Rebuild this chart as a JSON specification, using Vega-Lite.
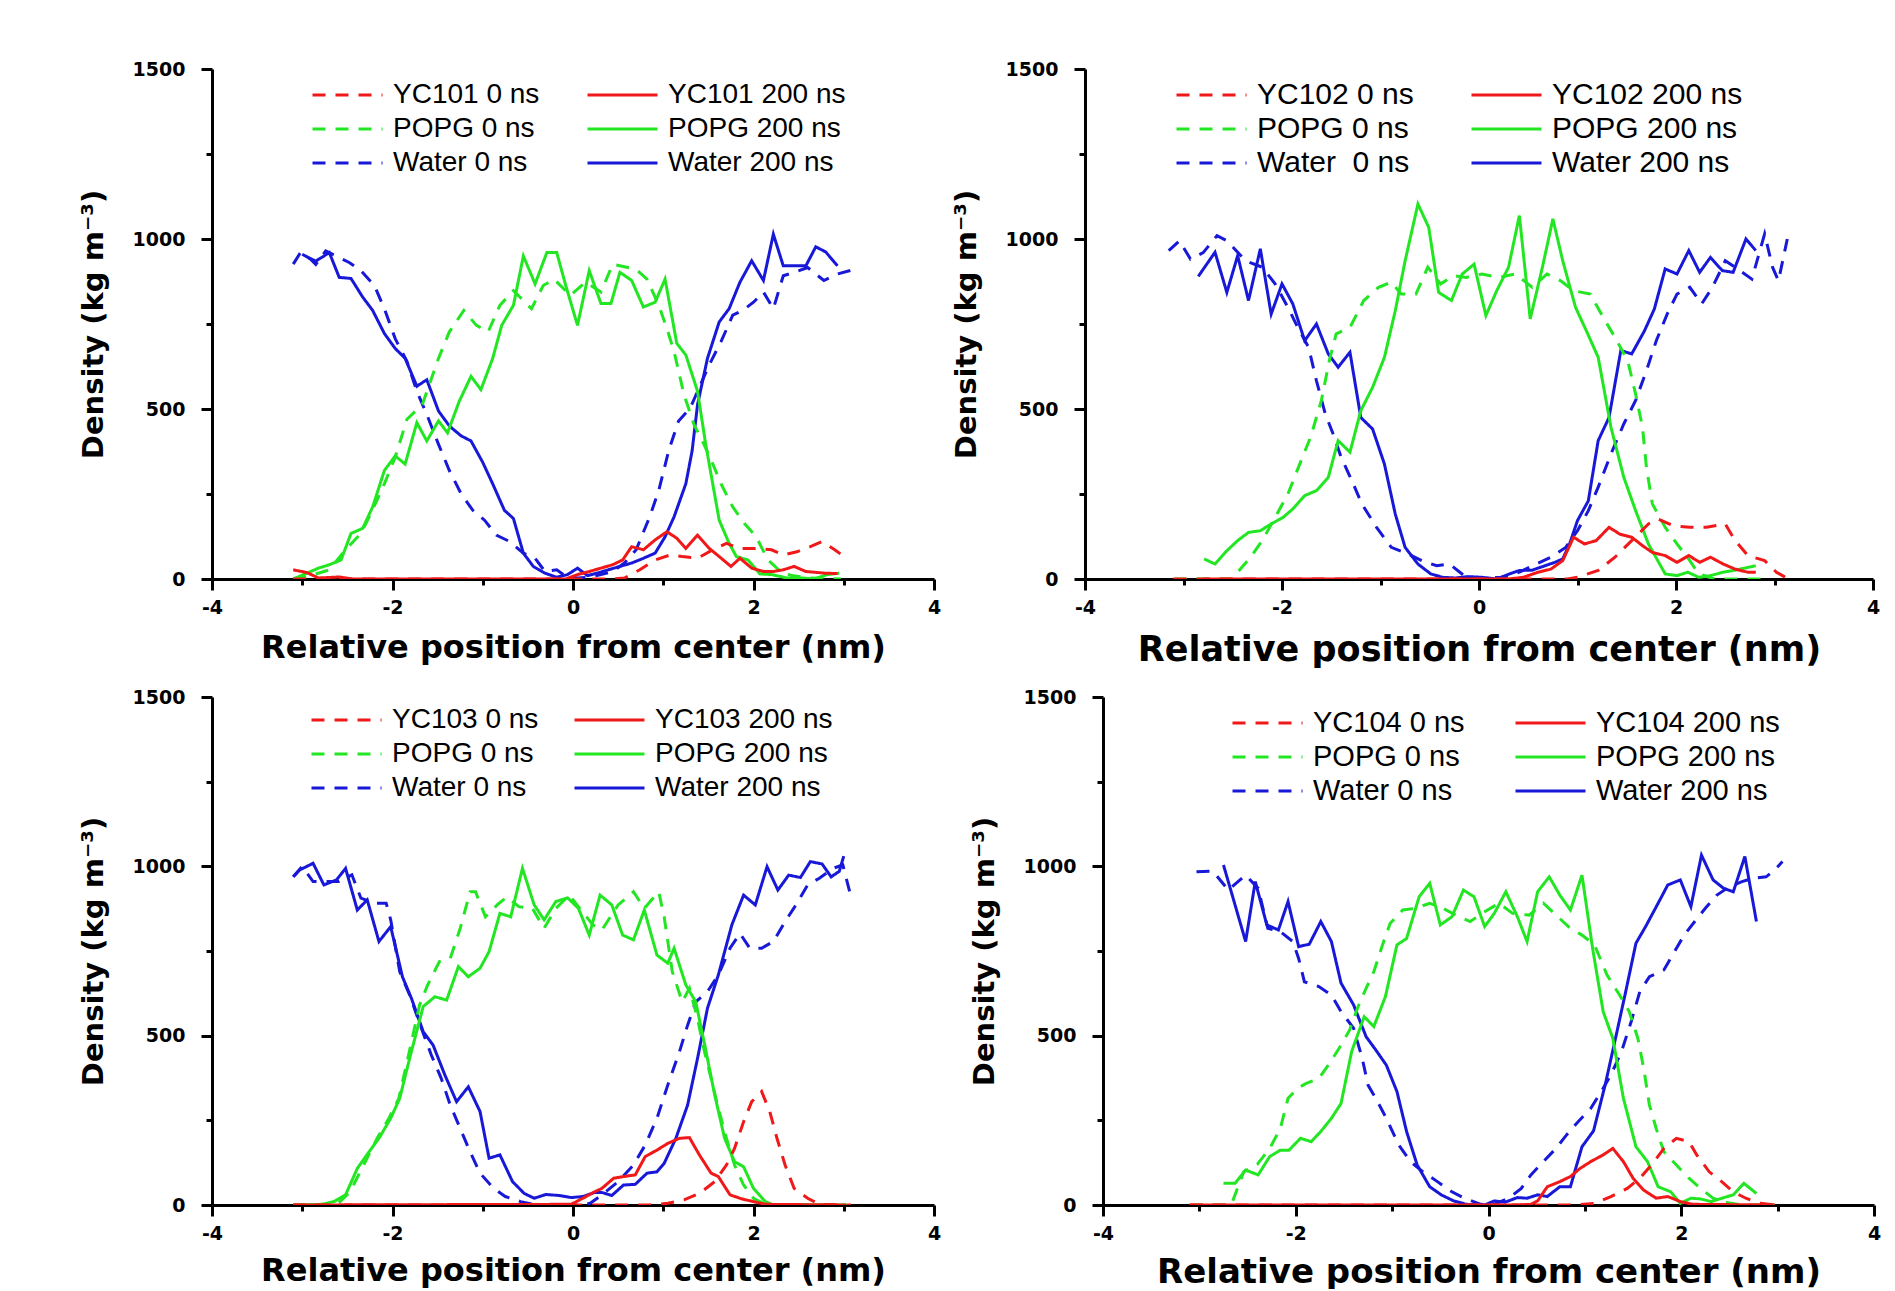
{
"$schema": "https://vega.github.io/schema/vega-lite/v6.json",
"background": "white",
"padding": {"left": 79, "top": 60, "right": 0, "bottom": 0},
"config": {
  "view": {"stroke": null},
  "axis": {"domainColor": "black", "domainWidth": 3, "tickColor": "black", "tickWidth": 3, "grid": false, "labelFont": "DejaVu Sans", "labelFontWeight": "bold", "labelFontSize": 19, "labelColor": "black", "titleFont": "DejaVu Sans", "titleFontWeight": "bold", "titleColor": "black", "labelOverlap": false, "labelFlush": false, "labelPadding": 8},
  "legend": {"title": null, "orient": "none", "columns": 2, "symbolType": "stroke", "symbolSize": 4900, "symbolStrokeWidth": 3, "clipHeight": 34, "labelFont": "Liberation Sans", "labelFontSize": 28, "labelColor": "black", "labelOffset": 9, "rowPadding": 0, "labelLimit": 500, "padding": 0, "legendY": 9}
},
"datasets": {
"p1": [
{"s":"b1","x":-3.0,"y":955},{"s":"b1","x":-2.93,"y":945},{"s":"b1","x":-2.85,"y":935},{"s":"b1","x":-2.7,"y":960},{"s":"b1","x":-2.59,"y":887},{"s":"b1","x":-2.46,"y":884},{"s":"b1","x":-2.33,"y":829},{"s":"b1","x":-2.22,"y":790},{"s":"b1","x":-2.09,"y":722},{"s":"b1","x":-1.97,"y":678},{"s":"b1","x":-1.86,"y":649},{"s":"b1","x":-1.73,"y":567},{"s":"b1","x":-1.62,"y":586},{"s":"b1","x":-1.49,"y":494},{"s":"b1","x":-1.37,"y":450},{"s":"b1","x":-1.24,"y":421},{"s":"b1","x":-1.13,"y":406},{"s":"b1","x":-1.0,"y":343},{"s":"b1","x":-0.89,"y":280},{"s":"b1","x":-0.76,"y":202},{"s":"b1","x":-0.66,"y":178},{"s":"b1","x":-0.55,"y":76},{"s":"b1","x":-0.44,"y":37},{"s":"b1","x":-0.31,"y":17},{"s":"b1","x":-0.18,"y":5},{"s":"b1","x":-0.06,"y":13},{"s":"b1","x":0.05,"y":32},{"s":"b1","x":0.16,"y":10},{"s":"b1","x":0.29,"y":19},{"s":"b1","x":0.39,"y":27},{"s":"b1","x":0.52,"y":37},{"s":"b1","x":0.65,"y":47},{"s":"b1","x":0.78,"y":61},{"s":"b1","x":0.91,"y":76},{"s":"b1","x":1.02,"y":124},{"s":"b1","x":1.12,"y":183},{"s":"b1","x":1.25,"y":280},{"s":"b1","x":1.32,"y":377},{"s":"b1","x":1.38,"y":513},{"s":"b1","x":1.49,"y":649},{"s":"b1","x":1.62,"y":756},{"s":"b1","x":1.73,"y":795},{"s":"b1","x":1.85,"y":873},{"s":"b1","x":1.98,"y":936},{"s":"b1","x":2.11,"y":878},{"s":"b1","x":2.22,"y":1014},{"s":"b1","x":2.33,"y":921},{"s":"b1","x":2.45,"y":921},{"s":"b1","x":2.58,"y":921},{"s":"b1","x":2.69,"y":977},{"s":"b1","x":2.8,"y":962},{"s":"b1","x":2.93,"y":921},
{"s":"b0","x":-3.1,"y":926},{"s":"b0","x":-3.02,"y":960},{"s":"b0","x":-2.91,"y":941},{"s":"b0","x":-2.85,"y":925},{"s":"b0","x":-2.74,"y":965},{"s":"b0","x":-2.48,"y":931},{"s":"b0","x":-2.35,"y":907},{"s":"b0","x":-2.2,"y":863},{"s":"b0","x":-2.09,"y":795},{"s":"b0","x":-1.97,"y":707},{"s":"b0","x":-1.84,"y":640},{"s":"b0","x":-1.73,"y":552},{"s":"b0","x":-1.62,"y":484},{"s":"b0","x":-1.49,"y":396},{"s":"b0","x":-1.37,"y":319},{"s":"b0","x":-1.24,"y":251},{"s":"b0","x":-1.11,"y":202},{"s":"b0","x":-0.98,"y":173},{"s":"b0","x":-0.85,"y":129},{"s":"b0","x":-0.7,"y":110},{"s":"b0","x":-0.55,"y":76},{"s":"b0","x":-0.42,"y":61},{"s":"b0","x":-0.31,"y":22},{"s":"b0","x":-0.18,"y":27},{"s":"b0","x":-0.08,"y":8},{"s":"b0","x":0.05,"y":3},{"s":"b0","x":0.18,"y":5},{"s":"b0","x":0.31,"y":13},{"s":"b0","x":0.44,"y":22},{"s":"b0","x":0.57,"y":47},{"s":"b0","x":0.7,"y":86},{"s":"b0","x":0.85,"y":183},{"s":"b0","x":0.95,"y":260},{"s":"b0","x":1.06,"y":377},{"s":"b0","x":1.17,"y":465},{"s":"b0","x":1.3,"y":503},{"s":"b0","x":1.38,"y":552},{"s":"b0","x":1.51,"y":630},{"s":"b0","x":1.64,"y":698},{"s":"b0","x":1.77,"y":776},{"s":"b0","x":1.88,"y":790},{"s":"b0","x":2.0,"y":814},{"s":"b0","x":2.11,"y":844},{"s":"b0","x":2.22,"y":795},{"s":"b0","x":2.33,"y":892},{"s":"b0","x":2.45,"y":902},{"s":"b0","x":2.6,"y":916},{"s":"b0","x":2.78,"y":878},{"s":"b0","x":2.93,"y":897},{"s":"b0","x":3.12,"y":911},
{"s":"g1","x":-3.1,"y":0},{"s":"g1","x":-2.95,"y":17},{"s":"g1","x":-2.82,"y":32},{"s":"g1","x":-2.7,"y":42},{"s":"g1","x":-2.57,"y":56},{"s":"g1","x":-2.46,"y":134},{"s":"g1","x":-2.33,"y":149},{"s":"g1","x":-2.22,"y":212},{"s":"g1","x":-2.09,"y":319},{"s":"g1","x":-1.97,"y":362},{"s":"g1","x":-1.86,"y":338},{"s":"g1","x":-1.73,"y":460},{"s":"g1","x":-1.62,"y":406},{"s":"g1","x":-1.49,"y":465},{"s":"g1","x":-1.39,"y":430},{"s":"g1","x":-1.26,"y":523},{"s":"g1","x":-1.13,"y":596},{"s":"g1","x":-1.02,"y":557},{"s":"g1","x":-0.89,"y":649},{"s":"g1","x":-0.79,"y":746},{"s":"g1","x":-0.66,"y":805},{"s":"g1","x":-0.55,"y":950},{"s":"g1","x":-0.42,"y":868},{"s":"g1","x":-0.29,"y":960},{"s":"g1","x":-0.18,"y":960},{"s":"g1","x":-0.08,"y":863},{"s":"g1","x":0.05,"y":746},{"s":"g1","x":0.18,"y":907},{"s":"g1","x":0.31,"y":810},{"s":"g1","x":0.42,"y":810},{"s":"g1","x":0.52,"y":902},{"s":"g1","x":0.65,"y":878},{"s":"g1","x":0.78,"y":800},{"s":"g1","x":0.91,"y":814},{"s":"g1","x":1.02,"y":882},{"s":"g1","x":1.15,"y":693},{"s":"g1","x":1.25,"y":659},{"s":"g1","x":1.38,"y":552},{"s":"g1","x":1.47,"y":397},{"s":"g1","x":1.62,"y":173},{"s":"g1","x":1.73,"y":105},{"s":"g1","x":1.81,"y":66},{"s":"g1","x":1.94,"y":56},{"s":"g1","x":2.07,"y":15},{"s":"g1","x":2.2,"y":13},{"s":"g1","x":2.37,"y":3},{"s":"g1","x":2.54,"y":3},{"s":"g1","x":2.67,"y":0},{"s":"g1","x":2.82,"y":13},{"s":"g1","x":2.95,"y":17},
{"s":"g0","x":-3.1,"y":0},{"s":"g0","x":-2.87,"y":13},{"s":"g0","x":-2.7,"y":27},{"s":"g0","x":-2.52,"y":86},{"s":"g0","x":-2.35,"y":134},{"s":"g0","x":-2.24,"y":192},{"s":"g0","x":-2.09,"y":280},{"s":"g0","x":-1.97,"y":358},{"s":"g0","x":-1.84,"y":470},{"s":"g0","x":-1.67,"y":513},{"s":"g0","x":-1.49,"y":649},{"s":"g0","x":-1.37,"y":727},{"s":"g0","x":-1.21,"y":790},{"s":"g0","x":-1.07,"y":746},{"s":"g0","x":-0.94,"y":727},{"s":"g0","x":-0.81,"y":805},{"s":"g0","x":-0.66,"y":848},{"s":"g0","x":-0.46,"y":795},{"s":"g0","x":-0.33,"y":863},{"s":"g0","x":-0.21,"y":882},{"s":"g0","x":-0.03,"y":834},{"s":"g0","x":0.14,"y":873},{"s":"g0","x":0.31,"y":844},{"s":"g0","x":0.44,"y":926},{"s":"g0","x":0.7,"y":911},{"s":"g0","x":0.82,"y":882},{"s":"g0","x":0.95,"y":805},{"s":"g0","x":1.04,"y":737},{"s":"g0","x":1.12,"y":669},{"s":"g0","x":1.23,"y":542},{"s":"g0","x":1.34,"y":455},{"s":"g0","x":1.45,"y":397},{"s":"g0","x":1.55,"y":338},{"s":"g0","x":1.64,"y":280},{"s":"g0","x":1.77,"y":212},{"s":"g0","x":1.9,"y":163},{"s":"g0","x":2.03,"y":124},{"s":"g0","x":2.16,"y":56},{"s":"g0","x":2.28,"y":27},{"s":"g0","x":2.42,"y":10},{"s":"g0","x":2.63,"y":3},{"s":"g0","x":2.97,"y":0},
{"s":"r1","x":-3.1,"y":27},{"s":"r1","x":-2.95,"y":19},{"s":"r1","x":-2.82,"y":3},{"s":"r1","x":-2.59,"y":6},{"s":"r1","x":-2.44,"y":0},{"s":"r1","x":-0.08,"y":0},{"s":"r1","x":0.05,"y":13},{"s":"r1","x":0.18,"y":22},{"s":"r1","x":0.31,"y":32},{"s":"r1","x":0.44,"y":42},{"s":"r1","x":0.55,"y":56},{"s":"r1","x":0.65,"y":95},{"s":"r1","x":0.78,"y":86},{"s":"r1","x":0.91,"y":115},{"s":"r1","x":1.04,"y":139},{"s":"r1","x":1.15,"y":120},{"s":"r1","x":1.25,"y":90},{"s":"r1","x":1.38,"y":129},{"s":"r1","x":1.51,"y":90},{"s":"r1","x":1.62,"y":66},{"s":"r1","x":1.75,"y":37},{"s":"r1","x":1.85,"y":61},{"s":"r1","x":1.98,"y":32},{"s":"r1","x":2.11,"y":22},{"s":"r1","x":2.22,"y":22},{"s":"r1","x":2.33,"y":27},{"s":"r1","x":2.45,"y":37},{"s":"r1","x":2.58,"y":22},{"s":"r1","x":2.8,"y":17},{"s":"r1","x":2.93,"y":16},
{"s":"r0","x":-3.1,"y":0},{"s":"r0","x":0.45,"y":0},{"s":"r0","x":0.57,"y":3},{"s":"r0","x":0.74,"y":27},{"s":"r0","x":0.91,"y":56},{"s":"r0","x":1.08,"y":71},{"s":"r0","x":1.21,"y":66},{"s":"r0","x":1.38,"y":61},{"s":"r0","x":1.55,"y":86},{"s":"r0","x":1.7,"y":105},{"s":"r0","x":1.85,"y":90},{"s":"r0","x":2.03,"y":90},{"s":"r0","x":2.2,"y":86},{"s":"r0","x":2.33,"y":71},{"s":"r0","x":2.48,"y":80},{"s":"r0","x":2.63,"y":95},{"s":"r0","x":2.76,"y":110},{"s":"r0","x":2.9,"y":86},{"s":"r0","x":3.03,"y":61}
],
"p2": [
{"s":"b1","x":-2.85,"y":890},{"s":"b1","x":-2.68,"y":961},{"s":"b1","x":-2.56,"y":843},{"s":"b1","x":-2.45,"y":951},{"s":"b1","x":-2.34,"y":819},{"s":"b1","x":-2.22,"y":971},{"s":"b1","x":-2.11,"y":779},{"s":"b1","x":-2.0,"y":868},{"s":"b1","x":-1.89,"y":809},{"s":"b1","x":-1.77,"y":701},{"s":"b1","x":-1.65,"y":750},{"s":"b1","x":-1.53,"y":662},{"s":"b1","x":-1.43,"y":623},{"s":"b1","x":-1.31,"y":667},{"s":"b1","x":-1.2,"y":475},{"s":"b1","x":-1.08,"y":441},{"s":"b1","x":-0.96,"y":338},{"s":"b1","x":-0.85,"y":191},{"s":"b1","x":-0.75,"y":93},{"s":"b1","x":-0.62,"y":44},{"s":"b1","x":-0.49,"y":15},{"s":"b1","x":-0.37,"y":5},{"s":"b1","x":-0.24,"y":3},{"s":"b1","x":-0.11,"y":7},{"s":"b1","x":0.03,"y":5},{"s":"b1","x":0.18,"y":0},{"s":"b1","x":0.31,"y":15},{"s":"b1","x":0.41,"y":25},{"s":"b1","x":0.54,"y":26},{"s":"b1","x":0.67,"y":39},{"s":"b1","x":0.77,"y":49},{"s":"b1","x":0.85,"y":59},{"s":"b1","x":0.92,"y":103},{"s":"b1","x":1.0,"y":172},{"s":"b1","x":1.11,"y":230},{"s":"b1","x":1.21,"y":407},{"s":"b1","x":1.32,"y":475},{"s":"b1","x":1.44,"y":672},{"s":"b1","x":1.55,"y":662},{"s":"b1","x":1.68,"y":730},{"s":"b1","x":1.78,"y":794},{"s":"b1","x":1.89,"y":912},{"s":"b1","x":2.01,"y":897},{"s":"b1","x":2.13,"y":966},{"s":"b1","x":2.24,"y":902},{"s":"b1","x":2.35,"y":946},{"s":"b1","x":2.47,"y":907},{"s":"b1","x":2.58,"y":902},{"s":"b1","x":2.71,"y":1000},{"s":"b1","x":2.81,"y":966},
{"s":"b0","x":-3.15,"y":966},{"s":"b0","x":-3.04,"y":995},{"s":"b0","x":-2.93,"y":941},{"s":"b0","x":-2.8,"y":960},{"s":"b0","x":-2.66,"y":1010},{"s":"b0","x":-2.56,"y":995},{"s":"b0","x":-2.37,"y":936},{"s":"b0","x":-2.2,"y":917},{"s":"b0","x":-2.07,"y":868},{"s":"b0","x":-1.94,"y":799},{"s":"b0","x":-1.84,"y":740},{"s":"b0","x":-1.73,"y":681},{"s":"b0","x":-1.65,"y":583},{"s":"b0","x":-1.56,"y":485},{"s":"b0","x":-1.48,"y":426},{"s":"b0","x":-1.4,"y":358},{"s":"b0","x":-1.29,"y":289},{"s":"b0","x":-1.19,"y":221},{"s":"b0","x":-1.04,"y":152},{"s":"b0","x":-0.89,"y":93},{"s":"b0","x":-0.72,"y":74},{"s":"b0","x":-0.58,"y":54},{"s":"b0","x":-0.43,"y":39},{"s":"b0","x":-0.3,"y":44},{"s":"b0","x":-0.13,"y":5},{"s":"b0","x":0.03,"y":3},{"s":"b0","x":0.24,"y":5},{"s":"b0","x":0.41,"y":20},{"s":"b0","x":0.58,"y":44},{"s":"b0","x":0.73,"y":64},{"s":"b0","x":0.88,"y":93},{"s":"b0","x":1.0,"y":142},{"s":"b0","x":1.11,"y":201},{"s":"b0","x":1.21,"y":270},{"s":"b0","x":1.34,"y":368},{"s":"b0","x":1.47,"y":456},{"s":"b0","x":1.59,"y":525},{"s":"b0","x":1.7,"y":613},{"s":"b0","x":1.8,"y":701},{"s":"b0","x":1.91,"y":779},{"s":"b0","x":2.01,"y":838},{"s":"b0","x":2.14,"y":858},{"s":"b0","x":2.26,"y":809},{"s":"b0","x":2.37,"y":858},{"s":"b0","x":2.5,"y":936},{"s":"b0","x":2.65,"y":907},{"s":"b0","x":2.77,"y":882},{"s":"b0","x":2.9,"y":1015},{"s":"b0","x":2.98,"y":917},{"s":"b0","x":3.04,"y":877},{"s":"b0","x":3.13,"y":1000},
{"s":"g1","x":-2.79,"y":59},{"s":"g1","x":-2.68,"y":44},{"s":"g1","x":-2.56,"y":83},{"s":"g1","x":-2.45,"y":113},{"s":"g1","x":-2.34,"y":137},{"s":"g1","x":-2.22,"y":142},{"s":"g1","x":-2.11,"y":162},{"s":"g1","x":-1.99,"y":181},{"s":"g1","x":-1.89,"y":206},{"s":"g1","x":-1.77,"y":245},{"s":"g1","x":-1.65,"y":260},{"s":"g1","x":-1.53,"y":299},{"s":"g1","x":-1.43,"y":407},{"s":"g1","x":-1.31,"y":373},{"s":"g1","x":-1.2,"y":495},{"s":"g1","x":-1.08,"y":564},{"s":"g1","x":-0.96,"y":652},{"s":"g1","x":-0.85,"y":789},{"s":"g1","x":-0.75,"y":936},{"s":"g1","x":-0.62,"y":1103},{"s":"g1","x":-0.51,"y":1034},{"s":"g1","x":-0.41,"y":843},{"s":"g1","x":-0.28,"y":819},{"s":"g1","x":-0.17,"y":897},{"s":"g1","x":-0.05,"y":926},{"s":"g1","x":0.07,"y":775},{"s":"g1","x":0.18,"y":848},{"s":"g1","x":0.3,"y":917},{"s":"g1","x":0.41,"y":1069},{"s":"g1","x":0.52,"y":765},{"s":"g1","x":0.64,"y":912},{"s":"g1","x":0.75,"y":1059},{"s":"g1","x":0.85,"y":936},{"s":"g1","x":0.98,"y":799},{"s":"g1","x":1.09,"y":730},{"s":"g1","x":1.21,"y":652},{"s":"g1","x":1.34,"y":446},{"s":"g1","x":1.47,"y":299},{"s":"g1","x":1.59,"y":201},{"s":"g1","x":1.72,"y":103},{"s":"g1","x":1.89,"y":15},{"s":"g1","x":2.01,"y":10},{"s":"g1","x":2.12,"y":20},{"s":"g1","x":2.23,"y":5},{"s":"g1","x":2.35,"y":10},{"s":"g1","x":2.48,"y":20},{"s":"g1","x":2.6,"y":26},{"s":"g1","x":2.81,"y":39},
{"s":"g0","x":-3.1,"y":0},{"s":"g0","x":-2.5,"y":0},{"s":"g0","x":-2.45,"y":20},{"s":"g0","x":-2.32,"y":64},{"s":"g0","x":-2.2,"y":113},{"s":"g0","x":-2.07,"y":181},{"s":"g0","x":-1.94,"y":250},{"s":"g0","x":-1.82,"y":338},{"s":"g0","x":-1.71,"y":417},{"s":"g0","x":-1.6,"y":525},{"s":"g0","x":-1.52,"y":642},{"s":"g0","x":-1.45,"y":721},{"s":"g0","x":-1.31,"y":740},{"s":"g0","x":-1.17,"y":819},{"s":"g0","x":-1.02,"y":858},{"s":"g0","x":-0.89,"y":873},{"s":"g0","x":-0.79,"y":838},{"s":"g0","x":-0.64,"y":838},{"s":"g0","x":-0.52,"y":917},{"s":"g0","x":-0.39,"y":868},{"s":"g0","x":-0.26,"y":892},{"s":"g0","x":-0.13,"y":887},{"s":"g0","x":0.03,"y":897},{"s":"g0","x":0.2,"y":887},{"s":"g0","x":0.37,"y":897},{"s":"g0","x":0.54,"y":858},{"s":"g0","x":0.69,"y":897},{"s":"g0","x":0.83,"y":877},{"s":"g0","x":0.96,"y":848},{"s":"g0","x":1.13,"y":838},{"s":"g0","x":1.26,"y":770},{"s":"g0","x":1.38,"y":711},{"s":"g0","x":1.51,"y":642},{"s":"g0","x":1.59,"y":544},{"s":"g0","x":1.66,"y":446},{"s":"g0","x":1.7,"y":328},{"s":"g0","x":1.76,"y":221},{"s":"g0","x":1.89,"y":152},{"s":"g0","x":2.01,"y":103},{"s":"g0","x":2.14,"y":54},{"s":"g0","x":2.23,"y":15},{"s":"g0","x":2.39,"y":0},{"s":"g0","x":2.9,"y":0},
{"s":"r1","x":-2.8,"y":0},{"s":"r1","x":0.3,"y":0},{"s":"r1","x":0.45,"y":5},{"s":"r1","x":0.6,"y":20},{"s":"r1","x":0.73,"y":29},{"s":"r1","x":0.85,"y":54},{"s":"r1","x":0.96,"y":123},{"s":"r1","x":1.07,"y":103},{"s":"r1","x":1.19,"y":113},{"s":"r1","x":1.32,"y":152},{"s":"r1","x":1.43,"y":132},{"s":"r1","x":1.55,"y":123},{"s":"r1","x":1.66,"y":98},{"s":"r1","x":1.76,"y":78},{"s":"r1","x":1.89,"y":69},{"s":"r1","x":2.01,"y":49},{"s":"r1","x":2.13,"y":69},{"s":"r1","x":2.24,"y":49},{"s":"r1","x":2.35,"y":64},{"s":"r1","x":2.48,"y":44},{"s":"r1","x":2.6,"y":29},{"s":"r1","x":2.73,"y":20},{"s":"r1","x":2.81,"y":20},
{"s":"r0","x":-3.1,"y":0},{"s":"r0","x":0.9,"y":0},{"s":"r0","x":1.0,"y":5},{"s":"r0","x":1.21,"y":25},{"s":"r0","x":1.38,"y":64},{"s":"r0","x":1.55,"y":113},{"s":"r0","x":1.72,"y":162},{"s":"r0","x":1.82,"y":176},{"s":"r0","x":1.97,"y":157},{"s":"r0","x":2.14,"y":152},{"s":"r0","x":2.31,"y":152},{"s":"r0","x":2.5,"y":162},{"s":"r0","x":2.6,"y":113},{"s":"r0","x":2.73,"y":69},{"s":"r0","x":2.9,"y":54},{"s":"r0","x":3.02,"y":20},{"s":"r0","x":3.11,"y":5}
],
"p3": [
{"s":"b1","x":-3.1,"y":969},{"s":"b1","x":-3.03,"y":989},{"s":"b1","x":-2.88,"y":1009},{"s":"b1","x":-2.76,"y":945},{"s":"b1","x":-2.62,"y":960},{"s":"b1","x":-2.52,"y":994},{"s":"b1","x":-2.39,"y":871},{"s":"b1","x":-2.28,"y":901},{"s":"b1","x":-2.15,"y":778},{"s":"b1","x":-2.02,"y":822},{"s":"b1","x":-1.89,"y":674},{"s":"b1","x":-1.79,"y":610},{"s":"b1","x":-1.66,"y":512},{"s":"b1","x":-1.55,"y":472},{"s":"b1","x":-1.42,"y":384},{"s":"b1","x":-1.29,"y":305},{"s":"b1","x":-1.16,"y":349},{"s":"b1","x":-1.03,"y":276},{"s":"b1","x":-0.93,"y":138},{"s":"b1","x":-0.81,"y":148},{"s":"b1","x":-0.67,"y":69},{"s":"b1","x":-0.54,"y":34},{"s":"b1","x":-0.43,"y":20},{"s":"b1","x":-0.3,"y":31},{"s":"b1","x":-0.15,"y":28},{"s":"b1","x":-0.02,"y":22},{"s":"b1","x":0.11,"y":25},{"s":"b1","x":0.24,"y":37},{"s":"b1","x":0.32,"y":37},{"s":"b1","x":0.43,"y":28},{"s":"b1","x":0.56,"y":59},{"s":"b1","x":0.69,"y":61},{"s":"b1","x":0.82,"y":94},{"s":"b1","x":0.93,"y":98},{"s":"b1","x":1.01,"y":123},{"s":"b1","x":1.14,"y":197},{"s":"b1","x":1.27,"y":295},{"s":"b1","x":1.38,"y":433},{"s":"b1","x":1.49,"y":581},{"s":"b1","x":1.61,"y":679},{"s":"b1","x":1.76,"y":827},{"s":"b1","x":1.89,"y":915},{"s":"b1","x":2.02,"y":886},{"s":"b1","x":2.15,"y":999},{"s":"b1","x":2.27,"y":930},{"s":"b1","x":2.39,"y":974},{"s":"b1","x":2.52,"y":967},{"s":"b1","x":2.63,"y":1014},{"s":"b1","x":2.76,"y":1007},{"s":"b1","x":2.86,"y":969},{"s":"b1","x":2.95,"y":985},{"s":"b1","x":3.0,"y":1030},
{"s":"b0","x":-3.1,"y":969},{"s":"b0","x":-3.0,"y":1000},{"s":"b0","x":-2.88,"y":955},{"s":"b0","x":-2.6,"y":955},{"s":"b0","x":-2.45,"y":975},{"s":"b0","x":-2.35,"y":906},{"s":"b0","x":-2.2,"y":891},{"s":"b0","x":-2.07,"y":891},{"s":"b0","x":-2.02,"y":842},{"s":"b0","x":-1.92,"y":689},{"s":"b0","x":-1.81,"y":620},{"s":"b0","x":-1.68,"y":522},{"s":"b0","x":-1.57,"y":443},{"s":"b0","x":-1.46,"y":374},{"s":"b0","x":-1.36,"y":295},{"s":"b0","x":-1.25,"y":226},{"s":"b0","x":-1.14,"y":157},{"s":"b0","x":-1.03,"y":94},{"s":"b0","x":-0.88,"y":49},{"s":"b0","x":-0.75,"y":25},{"s":"b0","x":-0.58,"y":10},{"s":"b0","x":-0.41,"y":0},{"s":"b0","x":0.11,"y":0},{"s":"b0","x":0.19,"y":5},{"s":"b0","x":0.32,"y":30},{"s":"b0","x":0.5,"y":69},{"s":"b0","x":0.67,"y":118},{"s":"b0","x":0.8,"y":177},{"s":"b0","x":0.93,"y":256},{"s":"b0","x":1.05,"y":354},{"s":"b0","x":1.18,"y":453},{"s":"b0","x":1.27,"y":531},{"s":"b0","x":1.36,"y":600},{"s":"b0","x":1.49,"y":630},{"s":"b0","x":1.61,"y":679},{"s":"b0","x":1.74,"y":758},{"s":"b0","x":1.85,"y":802},{"s":"b0","x":1.96,"y":758},{"s":"b0","x":2.09,"y":758},{"s":"b0","x":2.22,"y":778},{"s":"b0","x":2.35,"y":837},{"s":"b0","x":2.47,"y":886},{"s":"b0","x":2.6,"y":945},{"s":"b0","x":2.73,"y":965},{"s":"b0","x":2.88,"y":994},{"s":"b0","x":2.99,"y":1004},{"s":"b0","x":3.08,"y":910},
{"s":"g1","x":-3.1,"y":0},{"s":"g1","x":-2.78,"y":2},{"s":"g1","x":-2.65,"y":10},{"s":"g1","x":-2.52,"y":30},{"s":"g1","x":-2.39,"y":108},{"s":"g1","x":-2.26,"y":157},{"s":"g1","x":-2.15,"y":197},{"s":"g1","x":-2.02,"y":256},{"s":"g1","x":-1.92,"y":315},{"s":"g1","x":-1.81,"y":433},{"s":"g1","x":-1.66,"y":586},{"s":"g1","x":-1.53,"y":615},{"s":"g1","x":-1.4,"y":605},{"s":"g1","x":-1.27,"y":704},{"s":"g1","x":-1.16,"y":674},{"s":"g1","x":-1.03,"y":699},{"s":"g1","x":-0.93,"y":748},{"s":"g1","x":-0.81,"y":861},{"s":"g1","x":-0.69,"y":851},{"s":"g1","x":-0.56,"y":994},{"s":"g1","x":-0.43,"y":886},{"s":"g1","x":-0.32,"y":842},{"s":"g1","x":-0.19,"y":896},{"s":"g1","x":-0.06,"y":907},{"s":"g1","x":0.06,"y":876},{"s":"g1","x":0.18,"y":797},{"s":"g1","x":0.3,"y":915},{"s":"g1","x":0.43,"y":886},{"s":"g1","x":0.55,"y":797},{"s":"g1","x":0.67,"y":783},{"s":"g1","x":0.79,"y":871},{"s":"g1","x":0.93,"y":738},{"s":"g1","x":1.05,"y":714},{"s":"g1","x":1.12,"y":758},{"s":"g1","x":1.25,"y":650},{"s":"g1","x":1.36,"y":600},{"s":"g1","x":1.46,"y":472},{"s":"g1","x":1.57,"y":325},{"s":"g1","x":1.68,"y":197},{"s":"g1","x":1.79,"y":128},{"s":"g1","x":1.89,"y":113},{"s":"g1","x":2.0,"y":49},{"s":"g1","x":2.13,"y":10},{"s":"g1","x":2.22,"y":0},{"s":"g1","x":3.03,"y":0},
{"s":"g0","x":-3.1,"y":0},{"s":"g0","x":-2.73,"y":0},{"s":"g0","x":-2.6,"y":5},{"s":"g0","x":-2.47,"y":39},{"s":"g0","x":-2.32,"y":118},{"s":"g0","x":-2.17,"y":197},{"s":"g0","x":-2.04,"y":256},{"s":"g0","x":-1.93,"y":315},{"s":"g0","x":-1.83,"y":433},{"s":"g0","x":-1.7,"y":591},{"s":"g0","x":-1.61,"y":650},{"s":"g0","x":-1.48,"y":719},{"s":"g0","x":-1.36,"y":728},{"s":"g0","x":-1.25,"y":817},{"s":"g0","x":-1.14,"y":925},{"s":"g0","x":-1.08,"y":925},{"s":"g0","x":-0.97,"y":851},{"s":"g0","x":-0.84,"y":886},{"s":"g0","x":-0.73,"y":910},{"s":"g0","x":-0.6,"y":881},{"s":"g0","x":-0.45,"y":876},{"s":"g0","x":-0.32,"y":817},{"s":"g0","x":-0.19,"y":876},{"s":"g0","x":-0.04,"y":915},{"s":"g0","x":0.09,"y":871},{"s":"g0","x":0.22,"y":827},{"s":"g0","x":0.32,"y":812},{"s":"g0","x":0.5,"y":886},{"s":"g0","x":0.67,"y":925},{"s":"g0","x":0.79,"y":876},{"s":"g0","x":0.95,"y":925},{"s":"g0","x":1.01,"y":851},{"s":"g0","x":1.1,"y":689},{"s":"g0","x":1.21,"y":600},{"s":"g0","x":1.29,"y":640},{"s":"g0","x":1.38,"y":551},{"s":"g0","x":1.44,"y":472},{"s":"g0","x":1.53,"y":374},{"s":"g0","x":1.62,"y":276},{"s":"g0","x":1.7,"y":197},{"s":"g0","x":1.79,"y":118},{"s":"g0","x":1.89,"y":59},{"s":"g0","x":2.0,"y":20},{"s":"g0","x":2.13,"y":2},{"s":"g0","x":3.03,"y":0},
{"s":"r1","x":-3.1,"y":0},{"s":"r1","x":-0.02,"y":2},{"s":"r1","x":0.11,"y":20},{"s":"r1","x":0.24,"y":39},{"s":"r1","x":0.32,"y":49},{"s":"r1","x":0.45,"y":79},{"s":"r1","x":0.56,"y":84},{"s":"r1","x":0.69,"y":89},{"s":"r1","x":0.8,"y":143},{"s":"r1","x":0.93,"y":162},{"s":"r1","x":1.05,"y":182},{"s":"r1","x":1.18,"y":197},{"s":"r1","x":1.29,"y":199},{"s":"r1","x":1.4,"y":148},{"s":"r1","x":1.53,"y":94},{"s":"r1","x":1.61,"y":84},{"s":"r1","x":1.74,"y":30},{"s":"r1","x":1.87,"y":18},{"s":"r1","x":2.0,"y":10},{"s":"r1","x":2.13,"y":2},{"s":"r1","x":3.03,"y":0},
{"s":"r0","x":-3.1,"y":0},{"s":"r0","x":0.85,"y":0},{"s":"r0","x":1.05,"y":5},{"s":"r0","x":1.23,"y":15},{"s":"r0","x":1.4,"y":34},{"s":"r0","x":1.57,"y":69},{"s":"r0","x":1.7,"y":118},{"s":"r0","x":1.79,"y":167},{"s":"r0","x":1.89,"y":246},{"s":"r0","x":1.98,"y":305},{"s":"r0","x":2.09,"y":335},{"s":"r0","x":2.18,"y":276},{"s":"r0","x":2.26,"y":197},{"s":"r0","x":2.35,"y":118},{"s":"r0","x":2.45,"y":49},{"s":"r0","x":2.6,"y":20},{"s":"r0","x":2.73,"y":2},{"s":"r0","x":3.08,"y":0}
],
"p4": [
{"s":"b1","x":-2.75,"y":1004},{"s":"b1","x":-2.65,"y":906},{"s":"b1","x":-2.52,"y":778},{"s":"b1","x":-2.42,"y":955},{"s":"b1","x":-2.3,"y":827},{"s":"b1","x":-2.18,"y":812},{"s":"b1","x":-2.08,"y":896},{"s":"b1","x":-1.97,"y":763},{"s":"b1","x":-1.86,"y":770},{"s":"b1","x":-1.74,"y":837},{"s":"b1","x":-1.63,"y":778},{"s":"b1","x":-1.53,"y":655},{"s":"b1","x":-1.4,"y":591},{"s":"b1","x":-1.27,"y":497},{"s":"b1","x":-1.17,"y":458},{"s":"b1","x":-1.06,"y":413},{"s":"b1","x":-0.95,"y":335},{"s":"b1","x":-0.85,"y":217},{"s":"b1","x":-0.74,"y":118},{"s":"b1","x":-0.61,"y":54},{"s":"b1","x":-0.49,"y":30},{"s":"b1","x":-0.36,"y":12},{"s":"b1","x":-0.23,"y":2},{"s":"b1","x":-0.04,"y":0},{"s":"b1","x":0.06,"y":12},{"s":"b1","x":0.17,"y":8},{"s":"b1","x":0.3,"y":22},{"s":"b1","x":0.4,"y":20},{"s":"b1","x":0.51,"y":30},{"s":"b1","x":0.61,"y":25},{"s":"b1","x":0.74,"y":54},{"s":"b1","x":0.85,"y":54},{"s":"b1","x":0.97,"y":172},{"s":"b1","x":1.09,"y":219},{"s":"b1","x":1.21,"y":354},{"s":"b1","x":1.31,"y":482},{"s":"b1","x":1.42,"y":625},{"s":"b1","x":1.53,"y":773},{"s":"b1","x":1.63,"y":822},{"s":"b1","x":1.76,"y":891},{"s":"b1","x":1.86,"y":945},{"s":"b1","x":1.99,"y":960},{"s":"b1","x":2.1,"y":881},{"s":"b1","x":2.21,"y":1033},{"s":"b1","x":2.33,"y":960},{"s":"b1","x":2.44,"y":935},{"s":"b1","x":2.54,"y":925},{"s":"b1","x":2.66,"y":1029},{"s":"b1","x":2.78,"y":837},
{"s":"b0","x":-3.03,"y":984},{"s":"b0","x":-2.86,"y":986},{"s":"b0","x":-2.7,"y":930},{"s":"b0","x":-2.52,"y":974},{"s":"b0","x":-2.39,"y":935},{"s":"b0","x":-2.29,"y":817},{"s":"b0","x":-2.16,"y":807},{"s":"b0","x":-2.03,"y":778},{"s":"b0","x":-1.97,"y":728},{"s":"b0","x":-1.91,"y":659},{"s":"b0","x":-1.76,"y":645},{"s":"b0","x":-1.63,"y":620},{"s":"b0","x":-1.53,"y":571},{"s":"b0","x":-1.4,"y":522},{"s":"b0","x":-1.31,"y":433},{"s":"b0","x":-1.25,"y":354},{"s":"b0","x":-1.17,"y":315},{"s":"b0","x":-1.06,"y":256},{"s":"b0","x":-0.93,"y":177},{"s":"b0","x":-0.81,"y":128},{"s":"b0","x":-0.68,"y":98},{"s":"b0","x":-0.53,"y":69},{"s":"b0","x":-0.38,"y":39},{"s":"b0","x":-0.25,"y":20},{"s":"b0","x":-0.08,"y":2},{"s":"b0","x":0.04,"y":0},{"s":"b0","x":0.21,"y":20},{"s":"b0","x":0.34,"y":49},{"s":"b0","x":0.44,"y":89},{"s":"b0","x":0.57,"y":128},{"s":"b0","x":0.7,"y":167},{"s":"b0","x":0.81,"y":207},{"s":"b0","x":0.93,"y":246},{"s":"b0","x":1.06,"y":285},{"s":"b0","x":1.17,"y":335},{"s":"b0","x":1.27,"y":384},{"s":"b0","x":1.38,"y":453},{"s":"b0","x":1.48,"y":541},{"s":"b0","x":1.57,"y":630},{"s":"b0","x":1.67,"y":674},{"s":"b0","x":1.82,"y":694},{"s":"b0","x":1.93,"y":748},{"s":"b0","x":2.03,"y":797},{"s":"b0","x":2.14,"y":837},{"s":"b0","x":2.25,"y":876},{"s":"b0","x":2.37,"y":915},{"s":"b0","x":2.5,"y":940},{"s":"b0","x":2.63,"y":955},{"s":"b0","x":2.75,"y":965},{"s":"b0","x":2.88,"y":969},{"s":"b0","x":2.97,"y":989},{"s":"b0","x":3.05,"y":1014},
{"s":"g1","x":-2.75,"y":64},{"s":"g1","x":-2.63,"y":64},{"s":"g1","x":-2.52,"y":103},{"s":"g1","x":-2.39,"y":89},{"s":"g1","x":-2.27,"y":143},{"s":"g1","x":-2.16,"y":162},{"s":"g1","x":-2.07,"y":162},{"s":"g1","x":-1.95,"y":197},{"s":"g1","x":-1.84,"y":187},{"s":"g1","x":-1.74,"y":217},{"s":"g1","x":-1.63,"y":256},{"s":"g1","x":-1.53,"y":300},{"s":"g1","x":-1.42,"y":453},{"s":"g1","x":-1.29,"y":556},{"s":"g1","x":-1.19,"y":527},{"s":"g1","x":-1.07,"y":615},{"s":"g1","x":-0.95,"y":768},{"s":"g1","x":-0.85,"y":787},{"s":"g1","x":-0.72,"y":910},{"s":"g1","x":-0.61,"y":950},{"s":"g1","x":-0.5,"y":827},{"s":"g1","x":-0.38,"y":851},{"s":"g1","x":-0.26,"y":930},{"s":"g1","x":-0.15,"y":910},{"s":"g1","x":-0.04,"y":822},{"s":"g1","x":0.06,"y":861},{"s":"g1","x":0.18,"y":925},{"s":"g1","x":0.3,"y":851},{"s":"g1","x":0.4,"y":778},{"s":"g1","x":0.51,"y":925},{"s":"g1","x":0.63,"y":969},{"s":"g1","x":0.74,"y":915},{"s":"g1","x":0.85,"y":871},{"s":"g1","x":0.97,"y":974},{"s":"g1","x":1.08,"y":758},{"s":"g1","x":1.19,"y":571},{"s":"g1","x":1.29,"y":492},{"s":"g1","x":1.4,"y":315},{"s":"g1","x":1.53,"y":172},{"s":"g1","x":1.65,"y":128},{"s":"g1","x":1.76,"y":54},{"s":"g1","x":1.89,"y":39},{"s":"g1","x":1.99,"y":5},{"s":"g1","x":2.1,"y":20},{"s":"g1","x":2.2,"y":18},{"s":"g1","x":2.31,"y":10},{"s":"g1","x":2.42,"y":20},{"s":"g1","x":2.54,"y":30},{"s":"g1","x":2.65,"y":64},{"s":"g1","x":2.78,"y":34},
{"s":"g0","x":-3.1,"y":0},{"s":"g0","x":-2.67,"y":0},{"s":"g0","x":-2.54,"y":98},{"s":"g0","x":-2.4,"y":120},{"s":"g0","x":-2.27,"y":167},{"s":"g0","x":-2.16,"y":226},{"s":"g0","x":-2.08,"y":315},{"s":"g0","x":-1.98,"y":345},{"s":"g0","x":-1.89,"y":359},{"s":"g0","x":-1.76,"y":374},{"s":"g0","x":-1.65,"y":418},{"s":"g0","x":-1.55,"y":463},{"s":"g0","x":-1.44,"y":517},{"s":"g0","x":-1.36,"y":581},{"s":"g0","x":-1.27,"y":640},{"s":"g0","x":-1.19,"y":689},{"s":"g0","x":-1.1,"y":768},{"s":"g0","x":-1.02,"y":832},{"s":"g0","x":-0.89,"y":871},{"s":"g0","x":-0.76,"y":876},{"s":"g0","x":-0.61,"y":891},{"s":"g0","x":-0.47,"y":876},{"s":"g0","x":-0.34,"y":856},{"s":"g0","x":-0.19,"y":837},{"s":"g0","x":-0.04,"y":866},{"s":"g0","x":0.11,"y":891},{"s":"g0","x":0.25,"y":861},{"s":"g0","x":0.42,"y":856},{"s":"g0","x":0.57,"y":891},{"s":"g0","x":0.7,"y":856},{"s":"g0","x":0.85,"y":817},{"s":"g0","x":0.97,"y":797},{"s":"g0","x":1.1,"y":768},{"s":"g0","x":1.23,"y":679},{"s":"g0","x":1.36,"y":620},{"s":"g0","x":1.46,"y":571},{"s":"g0","x":1.55,"y":492},{"s":"g0","x":1.61,"y":404},{"s":"g0","x":1.67,"y":295},{"s":"g0","x":1.74,"y":226},{"s":"g0","x":1.82,"y":157},{"s":"g0","x":1.95,"y":118},{"s":"g0","x":2.08,"y":79},{"s":"g0","x":2.2,"y":49},{"s":"g0","x":2.33,"y":20},{"s":"g0","x":2.46,"y":8},{"s":"g0","x":2.63,"y":0},{"s":"g0","x":2.97,"y":0},
{"s":"r1","x":-3.1,"y":0},{"s":"r1","x":0.3,"y":0},{"s":"r1","x":0.44,"y":2},{"s":"r1","x":0.51,"y":12},{"s":"r1","x":0.61,"y":54},{"s":"r1","x":0.74,"y":69},{"s":"r1","x":0.85,"y":84},{"s":"r1","x":0.95,"y":108},{"s":"r1","x":1.06,"y":128},{"s":"r1","x":1.19,"y":148},{"s":"r1","x":1.29,"y":167},{"s":"r1","x":1.4,"y":128},{"s":"r1","x":1.5,"y":79},{"s":"r1","x":1.61,"y":44},{"s":"r1","x":1.74,"y":20},{"s":"r1","x":1.86,"y":25},{"s":"r1","x":1.99,"y":10},{"s":"r1","x":2.12,"y":2},{"s":"r1","x":2.97,"y":0},
{"s":"r0","x":-3.1,"y":0},{"s":"r0","x":0.9,"y":0},{"s":"r0","x":1.1,"y":5},{"s":"r0","x":1.27,"y":25},{"s":"r0","x":1.44,"y":49},{"s":"r0","x":1.57,"y":79},{"s":"r0","x":1.69,"y":118},{"s":"r0","x":1.82,"y":167},{"s":"r0","x":1.95,"y":197},{"s":"r0","x":2.08,"y":187},{"s":"r0","x":2.16,"y":148},{"s":"r0","x":2.29,"y":98},{"s":"r0","x":2.42,"y":69},{"s":"r0","x":2.54,"y":39},{"s":"r0","x":2.67,"y":20},{"s":"r0","x":2.82,"y":5},{"s":"r0","x":2.97,"y":0}
]
},
"resolve": {"scale": {"color": "independent", "strokeDash": "independent"}, "legend": {"color": "independent", "strokeDash": "independent"}},
"spacing": 21,
"vconcat": [
{"spacing": 11, "resolve": {"scale": {"color": "independent", "strokeDash": "independent"}, "legend": {"color": "independent", "strokeDash": "independent"}},
 "hconcat": [
  {"width": 722, "height": 510, "data": {"name": "p1"}, "mark": {"type": "line", "strokeWidth": 3, "clip": true},
   "encoding": {
    "x": {"field": "x", "type": "quantitative", "scale": {"domain": [-4, 4], "nice": false, "zero": false}, "axis": {"values": [-4,-3,-2,-1,0,1,2,3,4], "labelExpr": "datum.value % 2 == 0 ? '' + datum.value : ''", "tickSize": {"condition": {"test": "datum.value % 2 != 0", "value": 6}, "value": 11}, "title": "Relative position from center (nm)", "titleFontSize": 32, "titlePadding": 15}},
    "y": {"field": "y", "type": "quantitative", "scale": {"domain": [0, 1500], "nice": false}, "axis": {"values": [0,250,500,750,1000,1250,1500], "labelExpr": "datum.value % 500 == 0 ? '' + datum.value : ''", "tickSize": {"condition": {"test": "datum.value % 500 != 0", "value": 6}, "value": 11}, "labelPadding": 16, "title": "Density (kg m⁻³)", "titleFontSize": 29, "titlePadding": 24}},
    "color": {"field": "s", "type": "nominal", "scale": {"domain": ["r0","g0","b0","r1","g1","b1"], "range": ["#f01818","#22e622","#1818d8","#f01818","#22e622","#1818d8"]}, "legend": {"legendX": 99, "columnPadding": 46, "labelFontSize": 28, "labelExpr": "datum.value == 'r0' ? 'YC101 0 ns' : datum.value == 'r1' ? 'YC101 200 ns' : datum.value == 'g0' ? 'POPG 0 ns' : datum.value == 'g1' ? 'POPG 200 ns' : datum.value == 'b0' ? 'Water 0 ns' : 'Water 200 ns'"}},
    "strokeDash": {"field": "s", "type": "nominal", "scale": {"domain": ["r0","g0","b0","r1","g1","b1"], "range": [[13,10],[13,10],[13,10],[1,0],[1,0],[1,0]]}, "legend": {"legendX": 99, "columnPadding": 46, "labelFontSize": 28, "labelExpr": "datum.value == 'r0' ? 'YC101 0 ns' : datum.value == 'r1' ? 'YC101 200 ns' : datum.value == 'g0' ? 'POPG 0 ns' : datum.value == 'g1' ? 'POPG 200 ns' : datum.value == 'b0' ? 'Water 0 ns' : 'Water 200 ns'"}}
   }},
  {"width": 788, "height": 510, "data": {"name": "p2"}, "mark": {"type": "line", "strokeWidth": 3, "clip": true},
   "encoding": {
    "x": {"field": "x", "type": "quantitative", "scale": {"domain": [-4, 4], "nice": false, "zero": false}, "axis": {"values": [-4,-3,-2,-1,0,1,2,3,4], "labelExpr": "datum.value % 2 == 0 ? '' + datum.value : ''", "tickSize": {"condition": {"test": "datum.value % 2 != 0", "value": 6}, "value": 11}, "title": "Relative position from center (nm)", "titleFontSize": 35, "titlePadding": 15}},
    "y": {"field": "y", "type": "quantitative", "scale": {"domain": [0, 1500], "nice": false}, "axis": {"values": [0,250,500,750,1000,1250,1500], "labelExpr": "datum.value % 500 == 0 ? '' + datum.value : ''", "tickSize": {"condition": {"test": "datum.value % 500 != 0", "value": 6}, "value": 11}, "labelPadding": 16, "title": "Density (kg m⁻³)", "titleFontSize": 29, "titlePadding": 24}},
    "color": {"field": "s", "type": "nominal", "scale": {"domain": ["r0","g0","b0","r1","g1","b1"], "range": ["#f01818","#22e622","#1818d8","#f01818","#22e622","#1818d8"]}, "legend": {"legendX": 90, "columnPadding": 56, "labelFontSize": 30, "labelExpr": "datum.value == 'r0' ? 'YC102 0 ns' : datum.value == 'r1' ? 'YC102 200 ns' : datum.value == 'g0' ? 'POPG 0 ns' : datum.value == 'g1' ? 'POPG 200 ns' : datum.value == 'b0' ? 'Water\u00a0 0 ns' : 'Water 200 ns'"}},
    "strokeDash": {"field": "s", "type": "nominal", "scale": {"domain": ["r0","g0","b0","r1","g1","b1"], "range": [[13,10],[13,10],[13,10],[1,0],[1,0],[1,0]]}, "legend": {"legendX": 90, "columnPadding": 56, "labelFontSize": 30, "labelExpr": "datum.value == 'r0' ? 'YC102 0 ns' : datum.value == 'r1' ? 'YC102 200 ns' : datum.value == 'g0' ? 'POPG 0 ns' : datum.value == 'g1' ? 'POPG 200 ns' : datum.value == 'b0' ? 'Water\u00a0 0 ns' : 'Water 200 ns'"}}
   }}
 ]},
{"spacing": 29, "resolve": {"scale": {"color": "independent", "strokeDash": "independent"}, "legend": {"color": "independent", "strokeDash": "independent"}},
 "hconcat": [
  {"width": 722, "height": 508, "data": {"name": "p3"}, "mark": {"type": "line", "strokeWidth": 3, "clip": true},
   "encoding": {
    "x": {"field": "x", "type": "quantitative", "scale": {"domain": [-4, 4], "nice": false, "zero": false}, "axis": {"values": [-4,-3,-2,-1,0,1,2,3,4], "labelExpr": "datum.value % 2 == 0 ? '' + datum.value : ''", "tickSize": {"condition": {"test": "datum.value % 2 != 0", "value": 6}, "value": 11}, "title": "Relative position from center (nm)", "titleFontSize": 32, "titlePadding": 12}},
    "y": {"field": "y", "type": "quantitative", "scale": {"domain": [0, 1500], "nice": false}, "axis": {"values": [0,250,500,750,1000,1250,1500], "labelExpr": "datum.value % 500 == 0 ? '' + datum.value : ''", "tickSize": {"condition": {"test": "datum.value % 500 != 0", "value": 6}, "value": 11}, "labelPadding": 16, "title": "Density (kg m⁻³)", "titleFontSize": 29, "titlePadding": 24}},
    "color": {"field": "s", "type": "nominal", "scale": {"domain": ["r0","g0","b0","r1","g1","b1"], "range": ["#f01818","#22e622","#1818d8","#f01818","#22e622","#1818d8"]}, "legend": {"legendX": 98, "columnPadding": 34, "labelFontSize": 28, "legendY": 6, "labelExpr": "datum.value == 'r0' ? 'YC103 0 ns' : datum.value == 'r1' ? 'YC103 200 ns' : datum.value == 'g0' ? 'POPG 0 ns' : datum.value == 'g1' ? 'POPG 200 ns' : datum.value == 'b0' ? 'Water 0 ns' : 'Water 200 ns'"}},
    "strokeDash": {"field": "s", "type": "nominal", "scale": {"domain": ["r0","g0","b0","r1","g1","b1"], "range": [[13,10],[13,10],[13,10],[1,0],[1,0],[1,0]]}, "legend": {"legendX": 98, "columnPadding": 34, "labelFontSize": 28, "legendY": 6, "labelExpr": "datum.value == 'r0' ? 'YC103 0 ns' : datum.value == 'r1' ? 'YC103 200 ns' : datum.value == 'g0' ? 'POPG 0 ns' : datum.value == 'g1' ? 'POPG 200 ns' : datum.value == 'b0' ? 'Water 0 ns' : 'Water 200 ns'"}}
   }},
  {"width": 771, "height": 508, "data": {"name": "p4"}, "mark": {"type": "line", "strokeWidth": 3, "clip": true},
   "encoding": {
    "x": {"field": "x", "type": "quantitative", "scale": {"domain": [-4, 4], "nice": false, "zero": false}, "axis": {"values": [-4,-3,-2,-1,0,1,2,3,4], "labelExpr": "datum.value % 2 == 0 ? '' + datum.value : ''", "tickSize": {"condition": {"test": "datum.value % 2 != 0", "value": 6}, "value": 11}, "title": "Relative position from center (nm)", "titleFontSize": 34, "titlePadding": 12}},
    "y": {"field": "y", "type": "quantitative", "scale": {"domain": [0, 1500], "nice": false}, "axis": {"values": [0,250,500,750,1000,1250,1500], "labelExpr": "datum.value % 500 == 0 ? '' + datum.value : ''", "tickSize": {"condition": {"test": "datum.value % 500 != 0", "value": 6}, "value": 11}, "labelPadding": 16, "title": "Density (kg m⁻³)", "titleFontSize": 29, "titlePadding": 24}},
    "color": {"field": "s", "type": "nominal", "scale": {"domain": ["r0","g0","b0","r1","g1","b1"], "range": ["#f01818","#22e622","#1818d8","#f01818","#22e622","#1818d8"]}, "legend": {"legendX": 128, "columnPadding": 49, "labelFontSize": 29, "legendY": 9, "labelExpr": "datum.value == 'r0' ? 'YC104 0 ns' : datum.value == 'r1' ? 'YC104 200 ns' : datum.value == 'g0' ? 'POPG 0 ns' : datum.value == 'g1' ? 'POPG 200 ns' : datum.value == 'b0' ? 'Water 0 ns' : 'Water 200 ns'"}},
    "strokeDash": {"field": "s", "type": "nominal", "scale": {"domain": ["r0","g0","b0","r1","g1","b1"], "range": [[13,10],[13,10],[13,10],[1,0],[1,0],[1,0]]}, "legend": {"legendX": 128, "columnPadding": 49, "labelFontSize": 29, "legendY": 9, "labelExpr": "datum.value == 'r0' ? 'YC104 0 ns' : datum.value == 'r1' ? 'YC104 200 ns' : datum.value == 'g0' ? 'POPG 0 ns' : datum.value == 'g1' ? 'POPG 200 ns' : datum.value == 'b0' ? 'Water 0 ns' : 'Water 200 ns'"}}
   }}
 ]}
]
}
